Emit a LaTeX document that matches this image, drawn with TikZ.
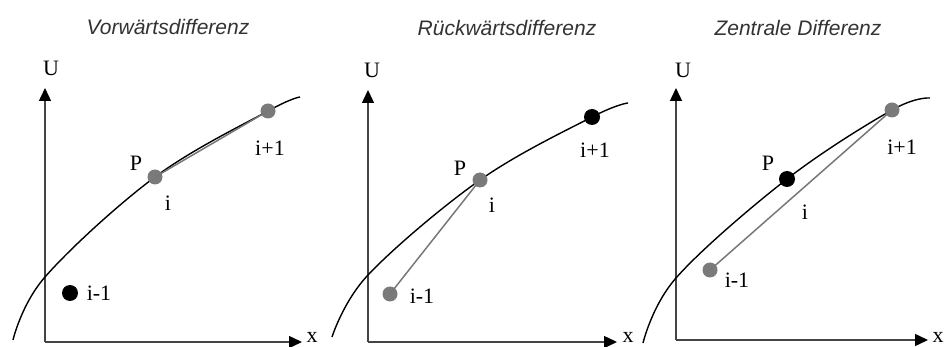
\documentclass[tikz,border=0pt]{standalone}
\usepackage{fontspec}
\setmainfont{Liberation Serif}
\newfontfamily\titlefont{Liberation Sans}
\usetikzlibrary{arrows.meta}
\definecolor{dotgray}{HTML}{7A7A7A}
\definecolor{linegray}{HTML}{777777}
\definecolor{axisgray}{HTML}{444444}
\tikzset{
  axis/.style={draw=axisgray, line width=1.4pt, -{Triangle[length=13pt,width=12pt,color=black]}},
  curve/.style={draw=black, line width=1.4pt},
  chord/.style={draw=linegray, line width=1.5pt},
  graydot/.style={circle, fill=dotgray, inner sep=0pt, minimum size=15pt},
  blackdot/.style={circle, fill=black, inner sep=0pt, minimum size=16pt},
  lbl/.style={font=\fontsize{22}{24}\selectfont, inner sep=0pt},
  ttl/.style={font=\titlefont\itshape\fontsize{21}{24}\selectfont, text=black!80, inner sep=0pt},
}
\begin{document}
\begin{tikzpicture}[x=1pt,y=-1pt]
\useasboundingbox (0,0) rectangle (945,347);
% ---------- Panel 1: Vorwaertsdifferenz ----------
\node[ttl] (t1) at (168,27) {Vorwärtsdifferenz};
\coordinate (o1) at (45,342);
\coordinate (u1) at (45,88);
\coordinate (r1) at (302,342);
\draw[axis] (o1) -- (u1);
\draw[axis] (o1) -- (r1);
\node[lbl] (U1) at (51,68) {U};
\node[lbl] (x1) at (312,337) {x};
\draw[curve] plot[smooth, tension=0.6] coordinates {(13,340) (45,277) (155,177) (268,111) (300,97)};
\node[graydot] (p1i) at (155,177) {};
\node[graydot] (p1n) at (268,111) {};
\node[blackdot] (p1p) at (70,293) {};
\draw[chord] (p1i.center) -- (p1n.center);
\node[lbl] (P1) at (136,163) {P};
\node[lbl] (i1) at (168,203) {i};
\node[lbl] (n1) at (270,148) {i+1};
\node[lbl] (m1) at (99,293) {i-1};
% ---------- Panel 2: Rueckwaertsdifferenz ----------
\node[ttl] (t2) at (507,28) {Rückwärtsdifferenz};
\coordinate (o2) at (368,342);
\coordinate (u2) at (368,90);
\coordinate (r2) at (617,342);
\draw[axis] (o2) -- (u2);
\draw[axis] (o2) -- (r2);
\node[lbl] (U2) at (372,70) {U};
\node[lbl] (x2) at (628,337) {x};
\draw[curve] plot[smooth, tension=0.6] coordinates {(332,337) (368,275) (480,180) (592,117) (628,103)};
\node[graydot] (p2i) at (480,180) {};
\node[blackdot] (p2n) at (592,117) {};
\node[graydot] (p2m) at (390,294) {};
\draw[chord] (p2m.center) -- (p2i.center);
\node[lbl] (P2) at (460,168) {P};
\node[lbl] (i2) at (492,205) {i};
\node[lbl] (n2) at (595,150) {i+1};
\node[lbl] (m2) at (422,296) {i-1};
% ---------- Panel 3: Zentrale Differenz ----------
\node[ttl] (t3) at (798,28) {Zentrale Differenz};
\coordinate (o3) at (676,340);
\coordinate (u3) at (676,88);
\coordinate (r3) at (928,340);
\draw[axis] (o3) -- (u3);
\draw[axis] (o3) -- (r3);
\node[lbl] (U3) at (683,70) {U};
\node[lbl] (x3) at (938,337) {x};
\draw[curve] plot[smooth, tension=0.6] coordinates {(643,343) (676,278) (787,179) (892,110) (930,98)};
\node[blackdot] (p3p) at (787,179) {};
\node[graydot] (p3n) at (892,110) {};
\node[graydot] (p3m) at (710,270) {};
\draw[chord] (p3m.center) -- (p3n.center);
\node[lbl] (P3) at (768,163) {P};
\node[lbl] (i3) at (805,212) {i};
\node[lbl] (n3) at (902,147) {i+1};
\node[lbl] (m3) at (737,280) {i-1};
\end{tikzpicture}
\end{document}
